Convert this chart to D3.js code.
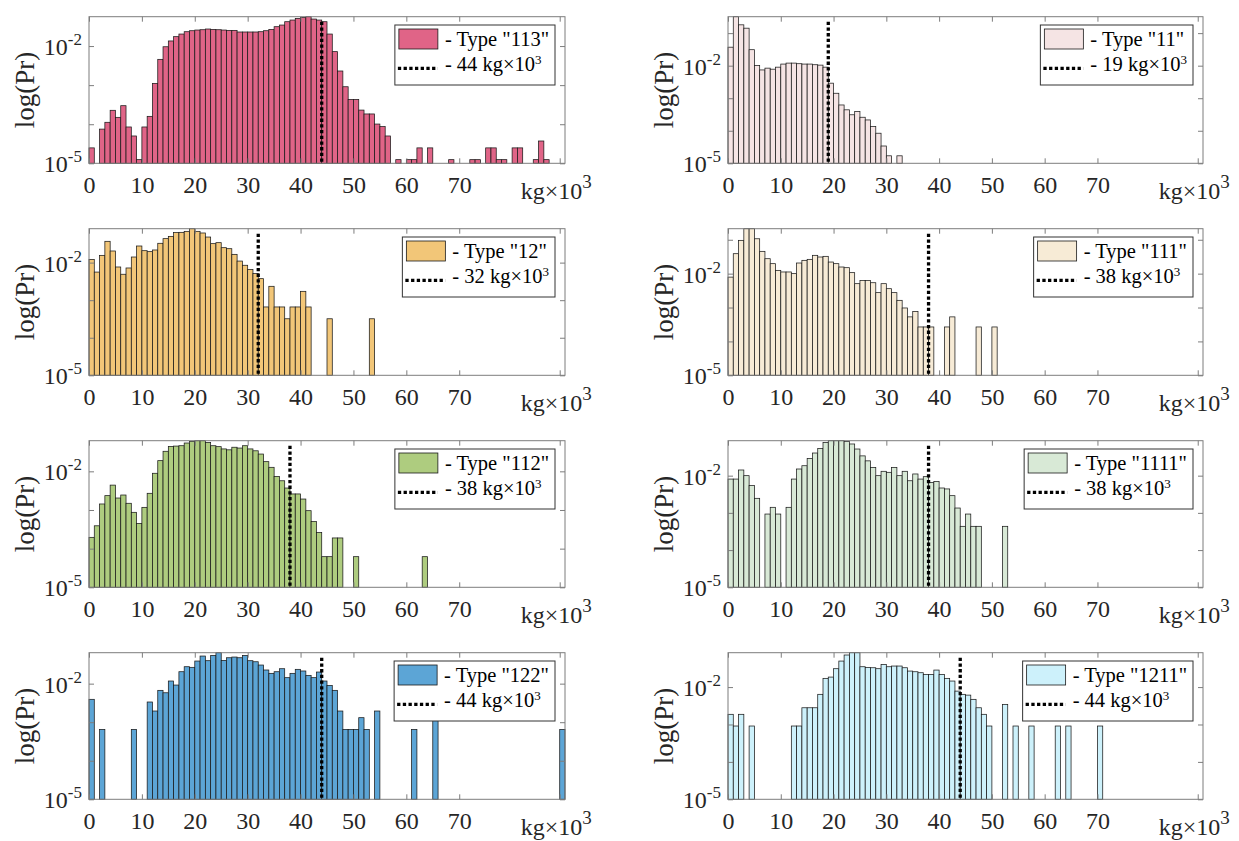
<!DOCTYPE html>
<html><head><meta charset="utf-8">
<script src="https://cdn.jsdelivr.net/npm/d3@7/dist/d3.min.js"></script>
<style>body{margin:0;background:#fff}</style>
</head><body>
<svg id="c" width="1239" height="841"></svg>
<script>
// ---------- data (probability per 1 kg×10^3 bin, bin index = lower edge) ----------
const types = ["113", "11", "12", "111", "112", "1111", "122", "1211"];
const thresholds = [44, 19, 32, 38, 38, 38, 44, 44];
const colors = ["#E06487", "#F5E4E4", "#F2C678", "#F7EBD6", "#AECC7F", "#D8E9D6", "#5CA5D6", "#CDF1FB"];
const xTicks = [0, 10, 20, 30, 40, 50, 60, 70, 89];
const xTickLabels = ["0", "10", "20", "30", "40", "50", "60", "70", "kg×10"];
const yTicks = [1e-5, 1e-4, 1e-3, 1e-2, 1e-1];
const yLabelTicks = [1e-5, 1e-2];

const pr113 = [2.48e-5, 0, 7.5e-5, 1.12e-4, 2.27e-4, 1.5e-4, 2.98e-4, 8.5e-5, 5.0e-5, 1.24e-5,
  8.5e-5, 1.59e-4, 1.11e-3, 4.57e-3, 9.6e-3, 1.35e-2, 1.74e-2, 2.03e-2, 2.33e-2, 2.47e-2,
  2.57e-2, 2.62e-2, 2.73e-2, 2.67e-2, 2.62e-2, 2.57e-2, 2.52e-2, 2.52e-2, 2.29e-2, 2.29e-2,
  2.29e-2, 2.29e-2, 2.33e-2, 2.47e-2, 2.67e-2, 3.13e-2, 3.45e-2, 4.2e-2, 4.63e-2, 5.1e-2,
  5.42e-2, 5.64e-2, 4.91e-2, 4.63e-2, 4.2e-2, 2.03e-2, 7.2e-3, 2.3e-3, 9.1e-4, 4.3e-4,
  4.3e-4, 2.3e-4, 1.83e-4, 1.83e-4, 1.01e-4, 8.7e-5, 5.0e-5, 0, 1.24e-5, 0,
  1.24e-5, 1.24e-5, 2.48e-5, 0, 2.48e-5, 0, 0, 0, 1.24e-5, 0,
  0, 0, 1.24e-5, 1.24e-5, 0, 2.48e-5, 2.48e-5, 1.24e-5, 1.24e-5, 0,
  2.48e-5, 2.48e-5, 0, 0, 1.24e-5, 3.72e-5, 1.24e-5];
const pr11 = [3.7e-2, 0.32, 0.18, 0.142, 3.1e-2, 1.01e-2, 7.4e-3, 8.4e-3, 7.8e-3, 9.0e-3,
  1.12e-2, 1.2e-2, 1.2e-2, 1.15e-2, 1.12e-2, 1.12e-2, 1.07e-2, 1.04e-2, 9.0e-3, 2.9e-3,
  1.42e-3, 6.2e-4, 4.4e-4, 3.1e-4, 3.9e-4, 2.6e-4, 2.15e-4, 1.34e-4, 8.4e-5, 3.4e-5,
  1.7e-5, 0, 1.7e-5];
const pr12 = [1.22e-2, 5.6e-3, 1.56e-2, 3.69e-2, 2.04e-2, 7.65e-3, 4.9e-3, 7.2e-3, 1.41e-2, 2.77e-2,
  2.08e-2, 1.96e-2, 2.17e-2, 3.27e-2, 4.35e-2, 5.0e-2, 6.3e-2, 6.4e-2, 6.8e-2, 8.0e-2,
  6.8e-2, 6.15e-2, 4.8e-2, 3.2e-2, 3.4e-2, 2.5e-2, 2.35e-2, 1.66e-2, 1.1e-2, 8.5e-3,
  6.6e-3, 5.1e-3, 3.74e-3, 6.6e-4, 2.34e-3, 6.6e-4, 6.6e-4, 3.2e-4, 6.6e-4, 6.6e-4,
  1.72e-3, 6.6e-4, 0, 0, 0, 3.2e-4, 0, 0, 0, 0,
  0, 0, 0, 3.2e-4];
const pr111 = [7.9e-3, 3.88e-2, 9.6e-2, 0.212, 0.212, 0.107, 4.55e-2, 2.76e-2, 1.97e-2, 1.25e-2,
  1.12e-2, 1.12e-2, 1.0e-2, 2.06e-2, 2.47e-2, 2.64e-2, 3.47e-2, 3.1e-2, 3.24e-2, 2.2e-2,
  1.97e-2, 1.57e-2, 1.5e-2, 1.07e-2, 5.06e-3, 6.3e-3, 6.3e-3, 5.4e-3, 2.75e-3, 5.06e-3,
  3.6e-3, 2.75e-3, 1.63e-3, 9.7e-4, 5.3e-4, 7.7e-4, 2.67e-4, 2.67e-4, 2.67e-4, 0,
  0, 2.67e-4, 5.3e-4, 0, 0, 0, 0, 2.67e-4, 0, 0,
  2.67e-4];
const pr112 = [1.96e-4, 3.9e-4, 1.43e-3, 2.35e-3, 4.4e-3, 2.04e-3, 2.44e-3, 1.49e-3, 8.7e-4, 4.5e-4,
  1.17e-3, 2.7e-3, 8.9e-3, 1.89e-2, 3.3e-2, 4.4e-2, 4.5e-2, 4.6e-2, 5.4e-2, 5.97e-2,
  6.2e-2, 6.2e-2, 5.6e-2, 4.6e-2, 4.35e-2, 3.8e-2, 3.6e-2, 4.2e-2, 4.0e-2, 4.6e-2,
  3.8e-2, 3.4e-2, 2.8e-2, 1.78e-2, 1.27e-2, 7.4e-3, 5.7e-3, 3.7e-3, 2.6e-3, 2.6e-3,
  1.92e-3, 9.6e-4, 5.0e-4, 2.6e-4, 6.2e-5, 6.2e-5, 1.89e-4, 1.89e-4, 0, 0,
  6.2e-5, 0, 0, 0, 0, 0, 0, 0, 0, 0,
  0, 0, 0, 6.2e-5];
const pr1111 = [8.1e-3, 8.1e-3, 1.42e-2, 1.0e-2, 5.4e-3, 2.46e-3, 0, 9.3e-4, 1.41e-3, 9.3e-4,
  0, 1.41e-3, 8.1e-3, 1.51e-2, 1.85e-2, 2.9e-2, 4.06e-2, 5.4e-2, 7.8e-2, 8.7e-2,
  8.7e-2, 8.7e-2, 8.3e-2, 7.1e-2, 5.2e-2, 3.4e-2, 2.5e-2, 1.67e-2, 1.0e-2, 1.31e-2,
  1.23e-2, 1.67e-2, 1.0e-2, 1.31e-2, 7.3e-3, 1.11e-2, 8.1e-3, 9.4e-3, 6.6e-3, 7.0e-3,
  4.66e-3, 4.4e-3, 2.9e-3, 1.35e-3, 4.35e-4, 9.3e-4, 4.35e-4, 4.35e-4, 0, 0,
  0, 0, 4.35e-4];
const pr122 = [3.92e-3, 0, 6.5e-4, 0, 0, 0, 0, 0, 6.5e-4, 0,
  0, 3.34e-3, 1.95e-3, 6.7e-3, 5.8e-3, 1.17e-2, 9.2e-3, 2.04e-2, 2.75e-2, 2.65e-2,
  3.86e-2, 5.2e-2, 3.94e-2, 5.4e-2, 6.35e-2, 4.0e-2, 4.7e-2, 4.9e-2, 4.7e-2, 5.4e-2,
  3.94e-2, 3.7e-2, 3.04e-2, 2.26e-2, 1.85e-2, 2.04e-2, 2.44e-2, 1.43e-2, 1.85e-2, 2.35e-2,
  2.13e-2, 1.64e-2, 1.43e-2, 2.0e-2, 1.17e-2, 9.0e-3, 6.7e-3, 1.95e-3, 6.5e-4, 6.5e-4,
  6.5e-4, 1.31e-3, 6.5e-4, 0, 1.95e-3, 0, 0, 0, 0, 0,
  0, 6.5e-4, 0, 0, 0, 1.95e-3, 0, 0, 0, 0,
  0, 0, 0, 0, 0, 0, 0, 0, 0, 0,
  0, 0, 0, 0, 0, 0, 0, 0, 0, 6.5e-4];
const pr1211 = [1.87e-3, 9.1e-4, 1.87e-3, 0, 9.1e-4, 0, 0, 0, 0, 0,
  0, 0, 9.1e-4, 9.1e-4, 2.8e-3, 2.8e-3, 2.8e-3, 6.4e-3, 1.71e-2, 1.85e-2,
  3.1e-2, 4.96e-2, 7.2e-2, 8.3e-2, 8.3e-2, 3.5e-2, 3.36e-2, 3.29e-2, 3.1e-2, 4.04e-2,
  3.5e-2, 3.65e-2, 3.65e-2, 3.29e-2, 2.68e-2, 2.57e-2, 2.42e-2, 2.18e-2, 2.18e-2, 2.85e-2,
  2.18e-2, 1.71e-2, 1.45e-2, 7.8e-3, 6.4e-3, 6.1e-3, 4.7e-3, 2.8e-3, 1.87e-3, 9.1e-4,
  0, 0, 3.45e-3, 0, 9.1e-4, 0, 0, 9.1e-4, 0, 0,
  0, 0, 9.1e-4, 0, 9.1e-4, 0, 0, 0, 0, 0,
  9.1e-4];
const series = [pr113, pr11, pr12, pr111, pr112, pr1111, pr122, pr1211];

// ---------- layout ----------
const FONT = "'Liberation Serif', 'DejaVu Serif', serif";
const colX = [89, 728], colW = [476, 475];
const rowY = [16.7, 228.7, 440.7, 652.7];
const H = 146.6;
const xDomain = [0, 90];
const AX = "#7d7d7d", TXT = "#262626";

const svg = d3.select("#c");

series.forEach((vals, k) => {
  const col = k % 2, row = Math.floor(k / 2);
  const w = colW[col];
  const g = svg.append("g").attr("transform", `translate(${colX[col]},${rowY[row]})`);
  const x = d3.scaleLinear().domain(xDomain).range([0, w]);
  const yMax = d3.max(vals);
  const y = d3.scaleLog().domain([1e-5, yMax]).range([H, 0]);

  // bars
  const bins = vals.map((v, i) => ({ i, v })).filter(d => d.v > 0);
  g.append("g").selectAll("rect").data(bins).join("rect")
    .attr("x", d => x(d.i)).attr("width", d => x(d.i + 1) - x(d.i))
    .attr("y", d => y(d.v)).attr("height", d => H - y(d.v))
    .attr("fill", colors[k]).attr("stroke", "#1a1a1a").attr("stroke-width", 0.75);

  // threshold dotted line
  g.append("line").attr("x1", x(thresholds[k])).attr("x2", x(thresholds[k]))
    .attr("y1", 5).attr("y2", H)
    .attr("stroke", "#000").attr("stroke-width", 3.3).attr("stroke-dasharray", "3.3,2.4");

  // axes box
  g.append("rect").attr("width", w).attr("height", H).attr("fill", "none")
    .attr("stroke", AX).attr("stroke-width", 1);

  const yt = yTicks.filter(t => t <= yMax * 1.0001);

  // bottom axis
  const xb = g.append("g").attr("transform", `translate(0,${H})`)
    .call(d3.axisBottom(x).tickValues(xTicks).tickSizeInner(-5).tickSizeOuter(0)
      .tickFormat((d, i) => xTickLabels[i]));
  xb.select(".domain").remove();
  xb.selectAll(".tick line").attr("stroke", AX);
  xb.selectAll(".tick text").attr("font-family", FONT).attr("font-size", 24)
    .attr("fill", TXT).attr("y", 30).attr("dy", 0);
  xb.selectAll(".tick").filter(d => d === 89).select("text")
    .attr("y", 36).attr("x", -4)
    .append("tspan").attr("dy", -11).attr("font-size", 19).text("3");

  // top axis (ticks only)
  const xt = g.append("g")
    .call(d3.axisTop(x).tickValues(xTicks).tickSizeInner(-5).tickSizeOuter(0).tickFormat(""));
  xt.select(".domain").remove();
  xt.selectAll(".tick line").attr("stroke", AX);

  // left axis
  const yl = g.append("g")
    .call(d3.axisLeft(y).tickValues(yt).tickSizeInner(-5).tickSizeOuter(0).tickFormat(""));
  yl.select(".domain").remove();
  yl.selectAll(".tick line").attr("stroke", AX);
  yl.selectAll(".tick").filter(d => yLabelTicks.includes(d)).each(function (d) {
    const t = d3.select(this).append("text").attr("x", -7).attr("y", 8.5)
      .attr("text-anchor", "end").attr("font-family", FONT).attr("font-size", 24).attr("fill", TXT);
    t.append("tspan").text("10");
    t.append("tspan").attr("dy", -10).attr("font-size", 17).text("-" + Math.round(-Math.log10(d)));
  });

  // right axis (ticks only)
  const yr = g.append("g").attr("transform", `translate(${w},0)`)
    .call(d3.axisRight(y).tickValues(yt).tickSizeInner(-5).tickSizeOuter(0).tickFormat(""));
  yr.select(".domain").remove();
  yr.selectAll(".tick line").attr("stroke", AX);

  // y label
  g.append("text").attr("transform", `translate(-64,${H / 2}) rotate(-90)`)
    .attr("text-anchor", "middle").attr("dominant-baseline", "central")
    .attr("font-family", FONT).attr("font-size", 27).attr("fill", TXT).text("log(Pr)");

  // legend
  const lg = g.append("g");
  const box = lg.append("rect");
  lg.append("rect").attr("x", 4).attr("y", 4).attr("width", 39).attr("height", 20)
    .attr("fill", colors[k]).attr("stroke", "#1a1a1a").attr("stroke-width", 0.8);
  lg.append("line").attr("x1", 3).attr("x2", 43).attr("y1", 43.3).attr("y2", 43.3)
    .attr("stroke", "#000").attr("stroke-width", 3.3).attr("stroke-dasharray", "3.3,2.4");
  const t1 = lg.append("text").attr("x", 50).attr("y", 21.3)
    .attr("font-family", FONT).attr("font-size", 20.5).attr("fill", "#000")
    .text(`- Type "${types[k]}"`);
  const t2 = lg.append("text").attr("x", 50).attr("y", 46)
    .attr("font-family", FONT).attr("font-size", 20.5).attr("fill", "#000");
  t2.append("tspan").text(`- ${thresholds[k]} kg×10`);
  t2.append("tspan").attr("dy", -7).attr("font-size", 13).text("3");
  const tw = Math.max(t1.node().getBBox().width, t2.node().getBBox().width);
  const lw = 50 + tw + 6;
  box.attr("width", lw).attr("height", 60).attr("fill", "#fff")
    .attr("stroke", "#333").attr("stroke-width", 1);
  lg.attr("transform", `translate(${w - 10 - lw},8.3)`);
});
</script>
</body></html>
